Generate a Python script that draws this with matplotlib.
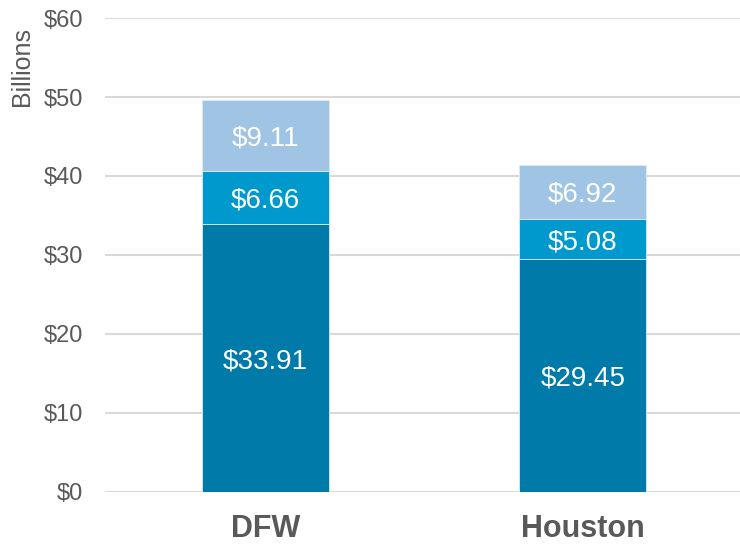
import matplotlib.pyplot as plt
import numpy as np

plt.rcParams['font.family'] = ['Liberation Sans', 'DejaVu Sans']

regions = ['DFW', 'Houston']
bottom_vals = [33.91, 29.45]
middle_vals = [6.66, 5.08]
top_vals = [9.11, 6.92]
yticks = [0, 10, 20, 30, 40, 50, 60]

colors = ['#007BA9', '#0099CD', '#A0C4E3']
gray = '#595959'

fig = plt.figure(figsize=(7.4, 5.46), dpi=100)
ax = fig.add_axes([0.142, 0.099, 0.858, 0.868])

x = np.arange(len(regions))
width = 0.4
bottoms = np.zeros(len(regions))
for vals, c in zip([bottom_vals, middle_vals, top_vals], colors):
    bars = ax.bar(x, vals, width, bottom=bottoms, color=c,
                  edgecolor='#dcebf5', linewidth=0.6, zorder=3)
    for xi, b, v in zip(x, bottoms, vals):
        ax.text(xi, b + v / 2, f'${v:.2f}', ha='center', va='center_baseline',
                color='white', fontsize=20, zorder=4)
    bottoms += np.array(vals)

ax.set_xlim(-0.505, 1.495)
ax.set_ylim(0, 60)
ax.set_yticks(yticks)
ax.set_yticklabels([f'${t}' for t in yticks], color=gray, fontsize=17)
ax.set_xticks(x)
ax.set_xticklabels(regions, color=gray, fontsize=22, fontweight='bold')
ax.tick_params(axis='y', length=0, pad=16)
ax.tick_params(axis='x', length=0, pad=16)

ax.grid(axis='y', color='#d9d9d9', linewidth=1.5, zorder=0)
for s in ax.spines.values():
    s.set_visible(False)

fig.text(0.03, 0.95, 'Billions', rotation=90, ha='center', va='top',
         color=gray, fontsize=18)

fig.savefig('out.png', dpi=100)
